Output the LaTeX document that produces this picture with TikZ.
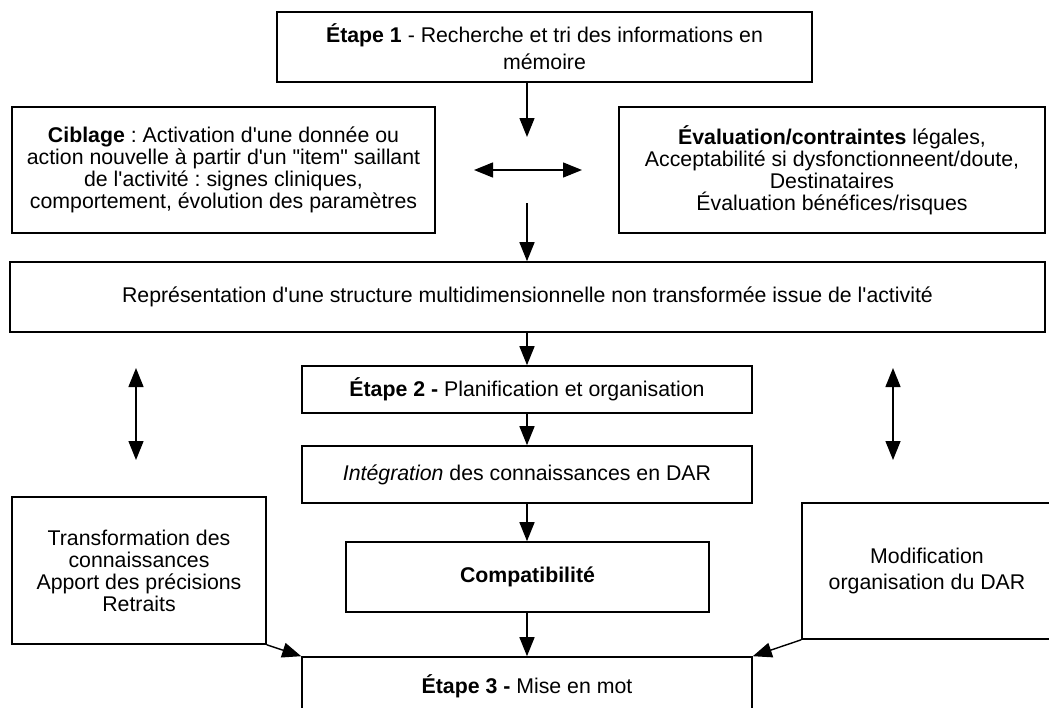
\documentclass[tikz,border=0pt]{standalone}
\usepackage{fontspec}
\newfontfamily\diagfont{Liberation Sans}
\usetikzlibrary{arrows.meta, positioning}
\frenchspacing

\begin{document}
\begin{tikzpicture}[
    x=1pt, y=-1pt,
    >={Triangle[length=19pt, width=15pt]},
    box/.style={draw, line width=1.6pt, inner sep=0pt, align=center,
        font=\diagfont\fontsize{21.3}{22}\selectfont},
    arr/.style={->, line width=1.4pt},
    dbl/.style={<->, line width=1.4pt},
]
\useasboundingbox (0,0) rectangle (1049,707);
\clip (0,0) rectangle (1049,707);

% --- Etape 1 and the two side blocks ---
\node[box, minimum width=535pt, minimum height=70pt] (etape1) at (544.5, 47)
    {\textbf{Étape 1} - Recherche et tri des informations en\\[5pt]mémoire};
\node[box, minimum width=423pt, minimum height=126pt] (ciblage) at (223.5, 170)
    {\textbf{Ciblage} : Activation d'une donnée ou\\action nouvelle à partir d'un "item" saillant\\de l'activité : signes cliniques,\\comportement, évolution des paramètres};
\node[box, minimum width=426pt, minimum height=126pt] (evalbox) at (832, 170)
    {\textbf{Évaluation/contraintes} légales,\\Acceptabilité si dysfonctionneent/doute,\\Destinataires\\Évaluation bénéfices/risques};

\coordinate (spine) at (527, 0);
\coordinate (e1tip) at (527, 137);
\coordinate (reptop) at (527, 203);
\coordinate (hleft) at (474, 170);
\coordinate (hright) at (582, 170);

\draw[arr] (etape1.south -| spine) -- (e1tip);
\draw[dbl] (hleft) -- (hright);

% --- Representation ---
\node[box, minimum width=1035pt, minimum height=70pt] (repr) at (527.5, 297)
    {Représentation d'une structure multidimensionnelle non transformée issue de l'activité};
\draw[arr] (reptop) -- (repr.north -| spine);

% --- Etape 2 chain ---
\node[box, minimum width=450pt, minimum height=47pt] (etape2) at (527, 389.5)
    {\textbf{Étape 2 -} Planification et organisation};
\node[box, minimum width=450pt, minimum height=57pt] (integ) at (527, 474.5)
    {\textit{Intégration} des connaissances en DAR};
\node[box, minimum width=363pt, minimum height=70pt] (compat) at (527.5, 577)
    {\textbf{Compatibilité}};
\node[box, minimum width=450pt, minimum height=58pt] (etape3) at (527, 686)
    {\textbf{Étape 3 -} Mise en mot};

\draw[arr] (repr.south -| spine) -- (etape2.north -| spine);
\draw[arr] (etape2.south -| spine) -- (integ.north -| spine);
\draw[arr] (integ.south -| spine) -- (compat.north -| spine);
\draw[arr] (compat.south -| spine) -- (etape3.north -| spine);

% side double arrows
\coordinate (ltop) at (136, 368);
\coordinate (lbot) at (136, 460);
\coordinate (rtop) at (893, 368);
\coordinate (rbot) at (893, 460);
\draw[dbl] (ltop) -- (lbot);
\draw[dbl] (rtop) -- (rbot);

% --- Bottom side blocks ---
\node[box, minimum width=254pt, minimum height=147pt] (transf) at (139, 570.5)
    {Transformation des\\connaissances\\Apport des précisions\\Retraits};
\node[box, minimum width=250pt, minimum height=136pt] (modif) at (927, 571)
    {Modification\\[4pt]organisation du DAR};

\draw[arr] (transf.south east) -- (etape3.north west);
\draw[arr] (modif.south west) -- (etape3.north east);

\end{tikzpicture}
\end{document}
